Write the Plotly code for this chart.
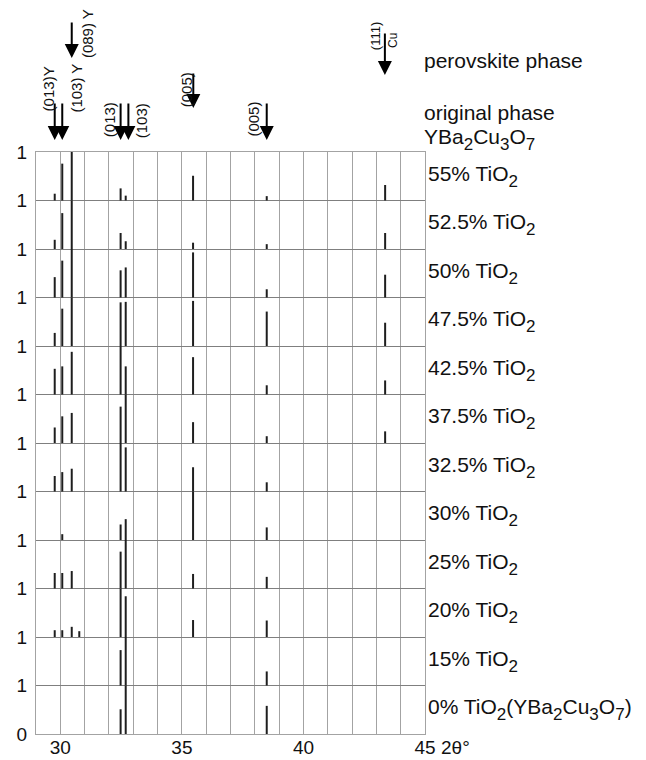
import plotly.graph_objects as go

# ---------------- data ----------------
x_range = [29, 45]
x_major_ticks = [30, 35, 40, 45]
x_tick_labels = ["30", "35", "40", "45"]

# peak positions (2theta, degrees)
peak_pos = [29.77, 30.08, 30.47, 30.78, 32.48, 32.69, 35.46, 38.49, 43.36]

# normalised peak intensities per sample (bottom -> top of the stack)
i_0 = [0, 0, 0, 0, 0.51, 1.0, 0, 0.58, 0]
i_15 = [0, 0, 0, 0, 0.73, 1.0, 0, 0.29, 0]
i_20 = [0.14, 0.14, 0.21, 0.12, 1.0, 0.84, 0.35, 0.34, 0]
i_25 = [0.32, 0.32, 0.36, 0, 0.76, 1.0, 0.30, 0.24, 0]
i_30 = [0, 0.12, 0, 0, 0.32, 0.43, 1.0, 0.26, 0]
i_32_5 = [0.32, 0.40, 0.47, 0, 1.0, 0.91, 0.50, 0.19, 0]
i_37_5 = [0.32, 0.55, 0.62, 0, 0.75, 1.0, 0.43, 0.14, 0.24]
i_42_5 = [0.53, 0.58, 0.88, 0, 1.0, 0.58, 0.77, 0.19, 0.29]
i_47_5 = [0.27, 0.77, 1.0, 0, 0.90, 0.91, 0.93, 0.71, 0.48]
i_50 = [0.42, 0.76, 1.0, 0, 0.56, 0.62, 0.93, 0.17, 0.47]
i_52_5 = [0.19, 0.74, 1.0, 0, 0.33, 0.16, 0.13, 0.10, 0.33]
i_55 = [0.14, 0.76, 1.0, 0, 0.25, 0.10, 0.51, 0.09, 0.32]

intensities = [i_0, i_15, i_20, i_25, i_30, i_32_5, i_37_5, i_42_5, i_47_5, i_50, i_52_5, i_55]


def sub(s):
    # subscript: slightly smaller digit shifted below the baseline
    return f"<span style='font-size:17px;baseline-shift:-6px'>{s}</span>"


sample_names = ["0%", "15%", "20%", "25%", "30%", "32.5%", "37.5%", "42.5%", "47.5%", "50%", "52.5%", "55%"]
sample_labels = [f"{n} TiO{sub('2')}" for n in sample_names]
sample_labels[0] = f"0% TiO{sub('2')}(YBa{sub('2')}Cu{sub('3')}O{sub('7')})"

y_tick_vals = list(range(0, 13))
y_tick_text = ["0"] + ["1"] * 12

# reflection markers (arrows) above the plot
arrow_x = [29.77, 30.08, 30.47, 32.48, 32.80, 35.47, 38.49, 43.35]
arrow_tip_px = [140, 140, 58, 140, 140, 108, 140, 75]
arrow_tail_px = [102, 102, 21, 102, 102, 72, 102, 32]

hkl_text = ["(013)Y", "(103) Y", "(089) Y", "(013)", "(103)", "(005)", "(005)", "(111)", "Cu"]
hkl_x = [29.53, 30.65, 31.10, 32.05, 33.35, 35.20, 37.93, 42.95, 43.68]
hkl_y_px = [88.5, 88.5, 34, 120, 120.5, 89.5, 119.5, 36, 40]
hkl_size = [15, 15, 15, 15, 15, 15, 15, 13, 12]

# ---------------- geometry ----------------
W, H = 646, 760
PLOT_TOP, PLOT_BOTTOM, PLOT_LEFT, PLOT_RIGHT = 152, 734, 36, 425


def paper_y(px):
    return (PLOT_BOTTOM - px) / (PLOT_BOTTOM - PLOT_TOP)


def paper_x(px):
    return (px - PLOT_LEFT) / (PLOT_RIGHT - PLOT_LEFT)


FONT = "Liberation Sans, Arial, sans-serif"
BIG = 21

# ---------------- figure ----------------
xs, ys = [], []
for base, vals in enumerate(intensities):
    for p, v in zip(peak_pos, vals):
        if v > 0:
            xs += [p, p, None]
            ys += [base, base + v, None]

fig = go.Figure()
fig.add_trace(go.Scatter(x=xs, y=ys, mode="lines",
                         line=dict(color="#1e1e1e", width=2),
                         showlegend=False, hoverinfo="skip"))

ann = []
for base, lab in enumerate(sample_labels):
    ann.append(dict(x=paper_x(426), xref="paper", y=base + 0.5, yref="y",
                    text=lab, showarrow=False, xanchor="left", yanchor="middle",
                    font=dict(size=BIG, color="#111", family=FONT)))

for ax_, tip, tail in zip(arrow_x, arrow_tip_px, arrow_tail_px):
    ann.append(dict(x=ax_, xref="x", y=paper_y(tip), yref="paper",
                    ax=0, ay=-(tip - tail), axref="pixel", ayref="pixel",
                    text="", showarrow=True, arrowhead=2, arrowsize=1.4,
                    arrowwidth=2, arrowcolor="#000", standoff=0))

for t, hx, hy, hs in zip(hkl_text, hkl_x, hkl_y_px, hkl_size):
    ann.append(dict(x=hx, xref="x", y=paper_y(hy), yref="paper", text=t,
                    textangle=-90, showarrow=False, xanchor="center", yanchor="middle",
                    font=dict(size=hs, color="#111", family=FONT)))

ann.append(dict(x=paper_x(422), xref="paper", y=paper_y(61), yref="paper",
                text="perovskite phase", showarrow=False, xanchor="left", yanchor="middle",
                font=dict(size=BIG, color="#111", family=FONT)))
ann.append(dict(x=paper_x(422), xref="paper", y=paper_y(112), yref="paper",
                text="original phase", showarrow=False, xanchor="left", yanchor="middle",
                font=dict(size=BIG, color="#111", family=FONT)))
ann.append(dict(x=paper_x(422), xref="paper", y=paper_y(139), yref="paper",
                text=f"YBa{sub('2')}Cu{sub('3')}O{sub('7')}", showarrow=False,
                xanchor="left", yanchor="middle",
                font=dict(size=BIG, color="#111", family=FONT)))
ann.append(dict(x=paper_x(439), xref="paper", y=paper_y(747), yref="paper",
                text="2θ°", showarrow=False, xanchor="left", yanchor="middle",
                font=dict(size=19, color="#111", family=FONT)))

fig.update_layout(
    width=W, height=H,
    margin=dict(l=PLOT_LEFT, r=W - PLOT_RIGHT, t=PLOT_TOP, b=H - PLOT_BOTTOM, pad=0),
    paper_bgcolor="white", plot_bgcolor="white",
    font=dict(family=FONT, size=19, color="#111"),
    annotations=ann,
    xaxis=dict(range=x_range, tickmode="array", tickvals=x_major_ticks, ticktext=x_tick_labels,
               showgrid=True, gridcolor="#a3a3a3", gridwidth=1, zeroline=False,
               minor=dict(tick0=29, dtick=1, showgrid=True, gridcolor="#a3a3a3", gridwidth=1, ticks=""),
               showline=True, mirror=True, linecolor="#a3a3a3", linewidth=1,
               ticks="", tickfont=dict(size=19), ticklabelstandoff=-4,
               automargin=False, fixedrange=True),
    yaxis=dict(range=[0, 12], tickmode="array", tickvals=y_tick_vals, ticktext=y_tick_text,
               showgrid=True, gridcolor="#7f7f7f", gridwidth=1, zeroline=False,
               showline=True, mirror=True, linecolor="#a3a3a3", linewidth=1,
               ticks="", tickfont=dict(size=19), ticklabelstandoff=4,
               automargin=False, fixedrange=True),
)

fig.write_html("out.html")
